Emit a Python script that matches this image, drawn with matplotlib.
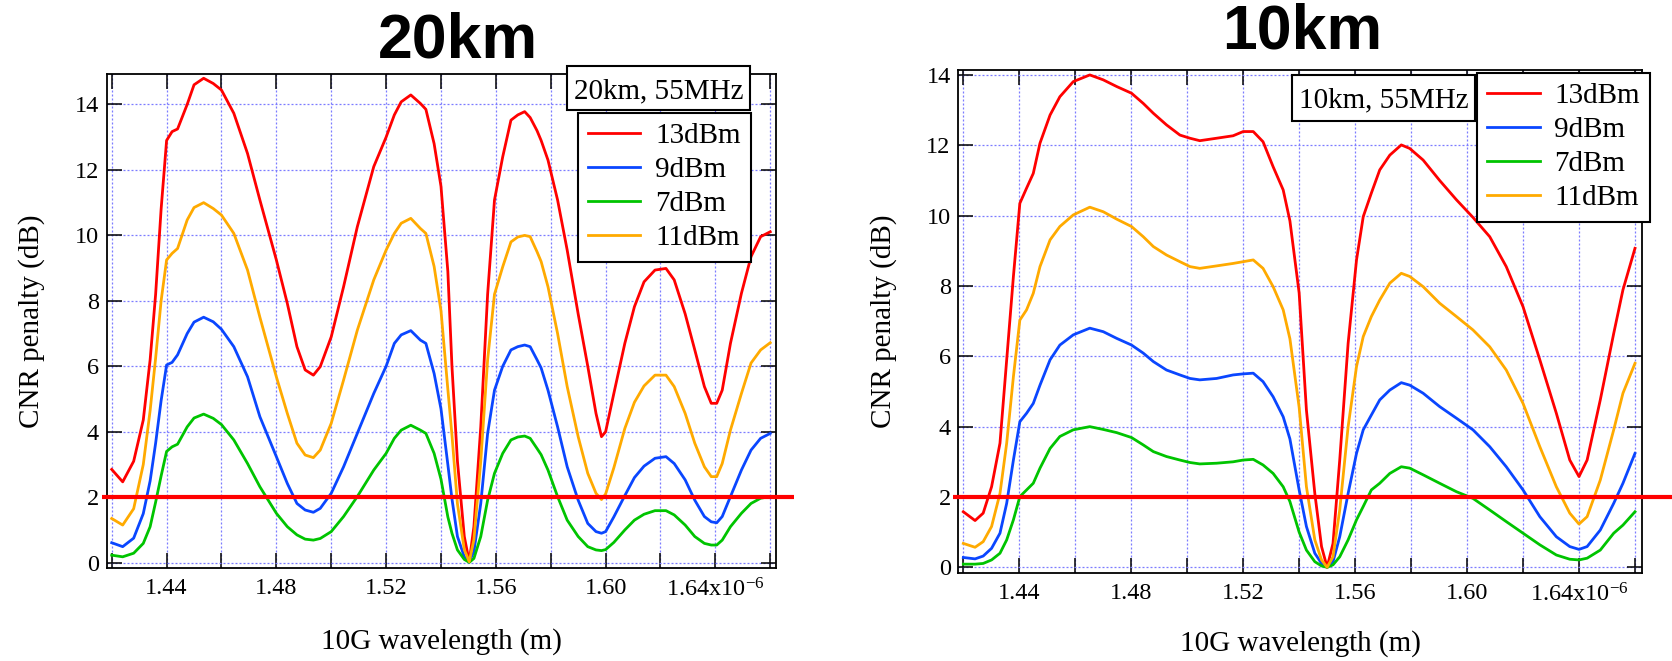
import matplotlib
matplotlib.use("Agg")
import matplotlib.pyplot as plt
from matplotlib.patches import Rectangle

plt.rcParams["font.family"] = ["Liberation Serif", "DejaVu Serif"]
plt.rcParams["mathtext.default"] = "regular"

W, H = 1672, 661

# ---- data (wavelength in um, CNR penalty in dB) ----
SERIES = ["13dBm", "9dBm", "7dBm", "11dBm"]
COLOURS = ["#ff0000", "#0a46ff", "#00c400", "#ffaa00"]

L_WL = [1.4200, 1.4240, 1.4280, 1.4315, 1.4340, 1.4360, 1.4380, 1.4400, 1.4420, 1.4440,
        1.4475, 1.4500, 1.4535, 1.4570, 1.4600, 1.4645, 1.4695, 1.4740, 1.4800, 1.4840,
        1.4875, 1.4905, 1.4935, 1.4960, 1.5000, 1.5045, 1.5095, 1.5155, 1.5200, 1.5230,
        1.5255, 1.5290, 1.5325, 1.5345, 1.5375, 1.5400, 1.5425, 1.5440, 1.5460, 1.5485,
        1.5503, 1.5520, 1.5545, 1.5570, 1.5595, 1.5625, 1.5655, 1.5680, 1.5705, 1.5725,
        1.5750, 1.5765, 1.5790, 1.5825, 1.5860, 1.5900, 1.5935, 1.5965, 1.5985, 1.6000,
        1.6030, 1.6070, 1.6105, 1.6140, 1.6180, 1.6220, 1.6250, 1.6290, 1.6325, 1.6360,
        1.6385, 1.6405, 1.6425, 1.6455, 1.6495, 1.6530, 1.6565, 1.6600]
L_13 = [2.85, 2.47, 3.10, 4.36, 6.20, 8.20, 10.80, 12.90, 13.17, 13.25,
        14.00, 14.60, 14.80, 14.64, 14.44, 13.73, 12.50, 11.08, 9.25, 7.92,
        6.60, 5.89, 5.73, 5.99, 6.90, 8.43, 10.26, 12.10, 13.00, 13.68,
        14.08, 14.29, 14.03, 13.85, 12.80, 11.50, 8.90, 6.00, 3.10, 0.80,
        0.03, 1.10, 4.15, 8.20, 11.08, 12.40, 13.52, 13.68, 13.78, 13.60,
        13.20, 12.90, 12.30, 11.08, 9.55, 7.60, 6.00, 4.56, 3.85, 4.00,
        5.17, 6.70, 7.82, 8.58, 8.94, 8.99, 8.64, 7.60, 6.50, 5.38,
        4.87, 4.87, 5.27, 6.70, 8.23, 9.35, 9.96, 10.11]
L_9 = [0.61, 0.49, 0.75, 1.50, 2.50, 3.65, 4.95, 6.04, 6.12, 6.35,
       7.00, 7.35, 7.50, 7.36, 7.13, 6.60, 5.68, 4.46, 3.24, 2.42,
       1.81, 1.61, 1.54, 1.66, 2.12, 2.93, 3.95, 5.17, 6.00, 6.70,
       6.96, 7.09, 6.80, 6.70, 5.78, 4.70, 3.00, 1.95, 0.80, 0.18,
       0.03, 0.34, 1.81, 3.95, 5.27, 6.00, 6.50, 6.60, 6.65, 6.60,
       6.20, 5.95, 5.27, 4.15, 2.93, 1.91, 1.20, 0.95, 0.90, 0.95,
       1.40, 2.05, 2.60, 2.95, 3.19, 3.24, 3.03, 2.53, 1.91, 1.41,
       1.25, 1.22, 1.41, 2.02, 2.83, 3.44, 3.80, 3.95]
L_7 = [0.23, 0.18, 0.29, 0.59, 1.10, 1.85, 2.65, 3.40, 3.54, 3.62,
       4.15, 4.42, 4.54, 4.41, 4.22, 3.75, 3.03, 2.32, 1.51, 1.10,
       0.85, 0.72, 0.69, 0.74, 0.95, 1.41, 2.02, 2.83, 3.34, 3.80,
       4.05, 4.20, 4.05, 3.95, 3.34, 2.55, 1.40, 0.90, 0.39, 0.10,
       0.01, 0.13, 0.80, 1.91, 2.73, 3.34, 3.75, 3.84, 3.87, 3.80,
       3.49, 3.30, 2.83, 2.02, 1.30, 0.80, 0.49, 0.39, 0.37, 0.40,
       0.62, 1.00, 1.30, 1.48, 1.59, 1.59, 1.46, 1.15, 0.80, 0.59,
       0.54, 0.54, 0.69, 1.10, 1.51, 1.81, 1.97, 2.02]
L_11 = [1.35, 1.15, 1.65, 3.00, 4.65, 6.25, 8.00, 9.25, 9.45, 9.60,
        10.47, 10.85, 11.00, 10.82, 10.62, 10.06, 8.94, 7.50, 5.68, 4.56,
        3.65, 3.29, 3.21, 3.44, 4.26, 5.58, 7.10, 8.64, 9.55, 10.06,
        10.37, 10.52, 10.21, 10.06, 9.05, 7.70, 5.30, 3.90, 1.80, 0.40,
        0.03, 0.70, 3.10, 6.20, 8.20, 9.04, 9.80, 9.95, 10.00, 9.96,
        9.50, 9.20, 8.43, 7.00, 5.38, 3.85, 2.73, 2.12, 1.93, 2.10,
        2.90, 4.10, 4.90, 5.40, 5.73, 5.73, 5.38, 4.56, 3.65, 2.93,
        2.63, 2.63, 3.03, 4.05, 5.17, 6.10, 6.50, 6.72]

R_WL = [1.4200, 1.4242, 1.4271, 1.4301, 1.4331, 1.4355, 1.4379, 1.4402, 1.4426, 1.4450,
        1.4474, 1.4510, 1.4545, 1.4593, 1.4652, 1.4700, 1.4748, 1.4801, 1.4843, 1.4879,
        1.4926, 1.4974, 1.5010, 1.5045, 1.5105, 1.5164, 1.5200, 1.5236, 1.5271, 1.5307,
        1.5343, 1.5367, 1.5400, 1.5426, 1.5456, 1.5480, 1.5500, 1.5521, 1.5545, 1.5575,
        1.5605, 1.5629, 1.5658, 1.5688, 1.5724, 1.5765, 1.5795, 1.5843, 1.5902, 1.5962,
        1.6021, 1.6081, 1.6140, 1.6200, 1.6260, 1.6319, 1.6367, 1.6400, 1.6429, 1.6476,
        1.6524, 1.6557, 1.6600]
R_13 = [1.58, 1.33, 1.54, 2.29, 3.53, 5.90, 8.27, 10.35, 10.78, 11.20,
        12.06, 12.86, 13.38, 13.81, 14.00, 13.86, 13.67, 13.48, 13.19, 12.91,
        12.58, 12.29, 12.20, 12.13, 12.20, 12.27, 12.39, 12.39, 12.10, 11.39,
        10.73, 9.85, 7.80, 4.47, 2.10, 0.59, 0.00, 0.68, 3.05, 6.37,
        8.74, 9.97, 10.64, 11.30, 11.72, 12.01, 11.91, 11.58, 11.00, 10.45,
        9.95, 9.40, 8.55, 7.41, 5.90, 4.38, 3.05, 2.58, 3.05, 4.76,
        6.65, 7.89, 9.07]
R_9 = [0.28, 0.24, 0.32, 0.54, 0.97, 1.82, 3.05, 4.14, 4.38, 4.66,
       5.18, 5.90, 6.32, 6.61, 6.80, 6.70, 6.51, 6.32, 6.09, 5.85,
       5.61, 5.47, 5.37, 5.33, 5.37, 5.47, 5.50, 5.52, 5.28, 4.85,
       4.28, 3.65, 2.20, 1.16, 0.40, 0.11, 0.00, 0.16, 0.87, 2.10,
       3.24, 3.91, 4.33, 4.76, 5.04, 5.25, 5.18, 4.95, 4.57, 4.24,
       3.91, 3.43, 2.86, 2.20, 1.44, 0.87, 0.59, 0.51, 0.59, 1.06,
       1.82, 2.39, 3.24]
R_7 = [0.09, 0.09, 0.11, 0.21, 0.40, 0.78, 1.35, 2.01, 2.20, 2.39,
       2.82, 3.38, 3.72, 3.91, 4.00, 3.92, 3.83, 3.69, 3.48, 3.29,
       3.15, 3.05, 2.98, 2.94, 2.96, 3.00, 3.05, 3.07, 2.91, 2.67,
       2.29, 1.87, 1.00, 0.49, 0.16, 0.04, 0.00, 0.07, 0.30, 0.78,
       1.35, 1.73, 2.20, 2.39, 2.67, 2.86, 2.82, 2.63, 2.39, 2.15,
       1.96, 1.63, 1.30, 0.97, 0.64, 0.35, 0.23, 0.21, 0.26, 0.49,
       0.97, 1.20, 1.58]
R_11 = [0.68, 0.57, 0.73, 1.16, 2.10, 3.53, 5.42, 7.03, 7.32, 7.79,
        8.55, 9.31, 9.69, 10.02, 10.24, 10.11, 9.90, 9.69, 9.40, 9.12,
        8.88, 8.69, 8.55, 8.50, 8.57, 8.64, 8.69, 8.74, 8.50, 7.98,
        7.32, 6.50, 4.55, 2.29, 0.78, 0.21, 0.00, 0.30, 1.63, 4.00,
        5.71, 6.56, 7.13, 7.60, 8.08, 8.36, 8.27, 7.98, 7.51, 7.13,
        6.75, 6.27, 5.61, 4.66, 3.43, 2.29, 1.54, 1.23, 1.44, 2.48,
        3.91, 4.95, 5.80]

THRESHOLD = 2.0
X_MAJOR = [1.44, 1.48, 1.52, 1.56, 1.60, 1.64]
X_MINOR = [1.42, 1.46, 1.50, 1.54, 1.58, 1.62, 1.66]
X_LABELS = ["1.44", "1.48", "1.52", "1.56", "1.60", "1.64x10$^{-6}$"]
Y_TICKS = [0, 2, 4, 6, 8, 10, 12, 14]

GRID_KW = dict(color="#7c7cff", linewidth=0.9, linestyle=(0, (1.6, 1.6)))


def px_box(l, t, r, b):
    return [l / W, 1 - b / H, (r - l) / W, (b - t) / H]


def panel(fig, rect, wl, ys, xlim, ylim, line_x, title, title_xy,
          note, note_box, leg_anchor, xlab_y, ylab_x):
    ax = fig.add_axes(rect)
    handles = []
    for y, c, name in zip(ys, COLOURS, SERIES):
        h, = ax.plot(wl, y, color=c, lw=2.0, label=name, zorder=3,
                     solid_joinstyle="round")
        handles.append(h)
    ax.plot(line_x, [THRESHOLD, THRESHOLD], color="#ff0000", lw=3.0,
            clip_on=False, zorder=6, solid_capstyle="butt")
    ax.set_xlim(*xlim)
    ax.set_ylim(*ylim)
    ax.set_xticks(X_MAJOR)
    ax.set_xticklabels(X_LABELS)
    ax.set_xticks(X_MINOR, minor=True)
    ax.set_yticks(Y_TICKS)
    ax.tick_params(which="both", direction="in", top=True, right=True,
                   length=10.5, width=1.1, labelsize=17.5)
    ax.tick_params(axis="x", pad=7)
    ax.tick_params(axis="y", pad=5.5)
    ax.grid(True, which="both", axis="x", **GRID_KW)
    ax.grid(True, which="major", axis="y", **GRID_KW)
    ax.set_axisbelow(True)
    for s in ax.spines.values():
        s.set_linewidth(1.3)

    ax.set_xlabel("10G wavelength (m)", fontsize=21)
    ax.xaxis.set_label_coords(0.5, xlab_y)
    ax.xaxis.label.set_verticalalignment("baseline")
    ax.set_ylabel("CNR penalty (dB)", fontsize=21)
    ax.yaxis.set_label_coords(ylab_x, 0.5)
    ax.yaxis.label.set_verticalalignment("baseline")

    leg = ax.legend(handles, SERIES, loc="upper right",
                    bbox_to_anchor=(leg_anchor[0] / W, 1 - leg_anchor[1] / H),
                    bbox_transform=fig.transFigure, fontsize=21,
                    frameon=True, fancybox=False, framealpha=1,
                    edgecolor="black", handlelength=1.8, handletextpad=0.5,
                    labelspacing=0.26, borderpad=0.35, borderaxespad=0)
    leg.get_frame().set_linewidth(1.5)
    leg.set_zorder(8)

    l, t, r, b = note_box
    fig.add_artist(Rectangle((l / W, 1 - b / H), (r - l) / W, (b - t) / H,
                             transform=fig.transFigure, facecolor="white",
                             edgecolor="black", linewidth=1.5, zorder=10))
    fig.text((l + r) / 2 / W, 1 - (t + b) / 2 / H, note, fontsize=21,
             ha="center", va="center_baseline", zorder=11)

    fig.text(title_xy[0] / W, 1 - title_xy[1] / H, title,
             family="Liberation Sans", fontweight="bold", fontsize=45,
             ha="center", va="baseline")
    return ax


fig = plt.figure(figsize=(W / 100, H / 100), dpi=100)
fig.patch.set_facecolor("white")

panel(fig, px_box(106.7, 74.0, 776.0, 568.3), L_WL, [L_13, L_9, L_7, L_11],
      (1.41817, 1.6621), (-0.171, 14.93), [1.4164, 1.6687],
      "20km", (457.5, 57.0), "20km, 55MHz", (566.7, 66.0, 750.0, 110.0),
      (750.7, 112.7), -0.1618, -0.1020)

panel(fig, px_box(958.3, 70.0, 1641.7, 573.3), R_WL, [R_13, R_9, R_7, R_11],
      (1.41821, 1.6624), (-0.17, 14.14), [1.4162, 1.6800],
      "10km", (1302.5, 48.5), "10km, 55MHz", (1291.7, 75.0, 1475.0, 120.7),
      (1650.0, 72.7), -0.1544, -0.0994)

fig.savefig("out.png", dpi=100)
